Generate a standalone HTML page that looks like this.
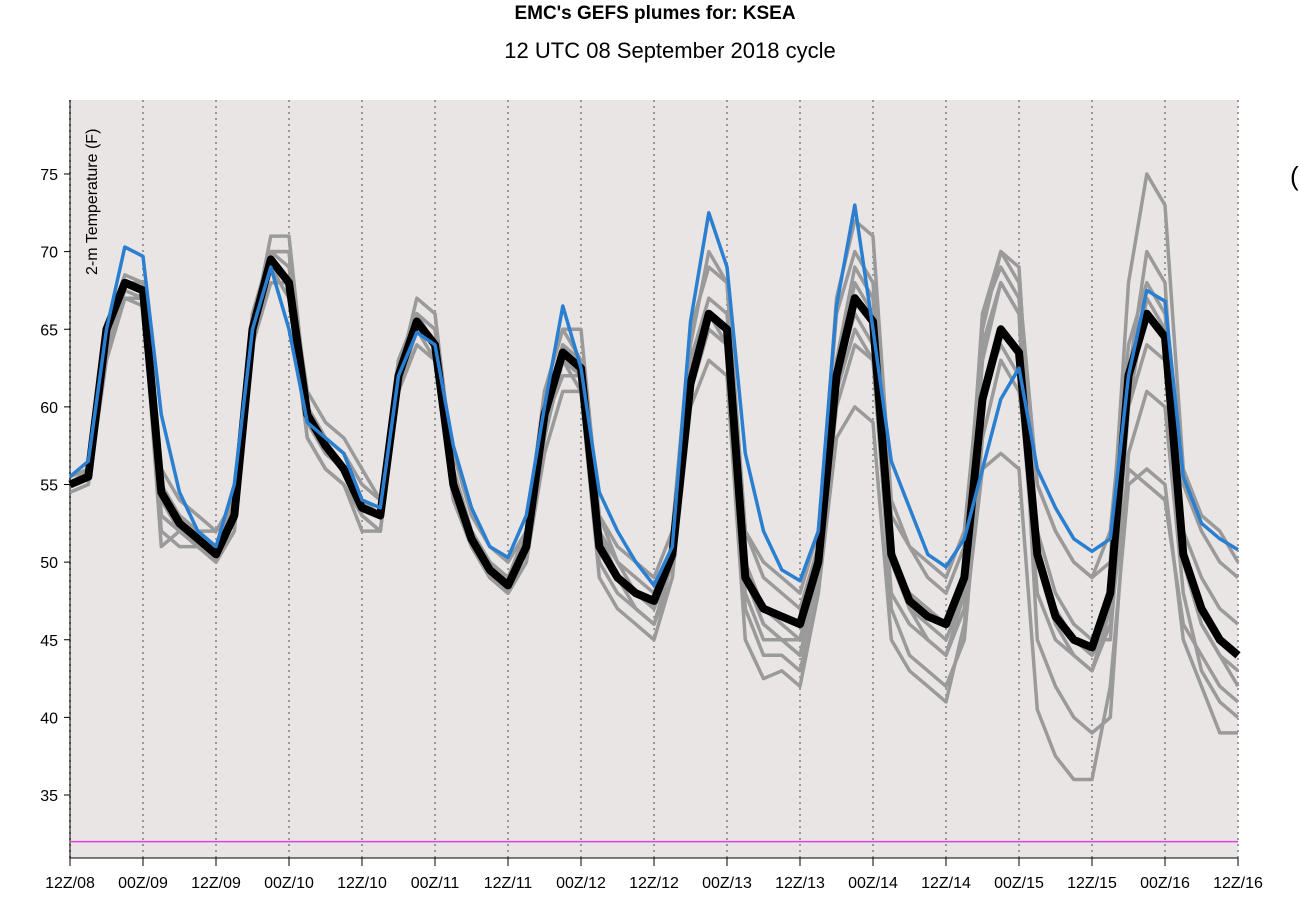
<!DOCTYPE html>
<html><head><meta charset="utf-8"><style>
body{margin:0;background:#fff;font-family:"Liberation Sans",Arial,sans-serif}
svg text{font-family:"Liberation Sans",Arial,sans-serif}
</style></head><body>
<svg width="1300" height="902" id="c">
<text x="655" y="19" text-anchor="middle" font-size="19" font-weight="bold">EMC's GEFS plumes for: KSEA</text>
<text x="670" y="58" text-anchor="middle" font-size="22">12 UTC 08 September 2018 cycle</text>
<rect x="70" y="100" width="1168" height="758" fill="#e9e5e4"/>
<text x="1290" y="185" font-size="26">(</text>
<g id="g"></g>
</svg>
<script>
const xLabels=["12Z/08","00Z/09","12Z/09","00Z/10","12Z/10","00Z/11","12Z/11","00Z/12","12Z/12","00Z/13","12Z/13","00Z/14","12Z/14","00Z/15","12Z/15","00Z/16","12Z/16"];
const yTicks=[35,40,45,50,55,60,65,70,75];
const freezeLine=32;
const meanSeries=[55,55.5,65,68,67.5,54.5,52.5,51.5,50.5,53,65,69.5,68,59.5,57.5,56,53.5,53,62,65.5,64,55,51.5,49.5,48.5,51,59.5,63.5,62.5,51,49,48,47.5,50.5,61.5,66,65,49,47,46.5,46,50,62,67,65.5,50.5,47.5,46.5,46,49,60.5,65,63.5,50.5,46.5,45,44.5,48,62,66,64.5,50.5,47,45,44];
const controlSeries=[55.5,56.5,65,70.3,69.7,59.5,54.5,52,51,55,65,69,65,59,58,57,54,53.5,62,64.8,64,57.5,53.5,51,50.3,53,60,66.5,62.5,54.5,52,50,48.5,51,65.5,72.5,69,57,52,49.5,48.8,52,66.5,73,65,56.5,53.5,50.5,49.7,51.5,56,60.5,62.5,56,53.5,51.5,50.7,51.5,62,67.5,66.8,55.5,52.5,51.5,50.8];
const memberA=[55,56,64,68,68,53,52,52,52,53,65,71,71,60,58,57,54,53,62,67,66,56,52,50,49,51,61,65,65,53,50,49,48,51,64,70,68,52,49,48,47,51,67,72,71,54,51,49,48,51,65,70,68,55,52,50,49,50,68,75,73,56,53,52,50];
const memberB=[54.5,55,63,67,67,51,52,51,50,53,64,68,68,58,56,55,52,52,61,64,63,54,51,49,48,50,57,61,61,49,47,46,45,49,60,63,62,45,42.5,43,42,48,58,60,59,45,43,42,41,46,56,57,56,40.5,37.5,36,36,42,55,56,55,45,42,39,39];
const memberC=[55,56,65,68.5,68,54,53,52,51,54,66,70,70,59,57,56,54,53,63,66,65,56,52,50,49,52,60,64,63,52,50,48,47,51,63,67,66,50,47,46,45,50,62,68,66,50,47,46,45,48,66,69,67,50,46,44,43,47,62,70,68,50,46,44,43];
const memberD=[55,55.5,64,67.5,67,55,53,52,51,53,65,69,68,60,58,57,55,54,62,65,64,55,51,49,48,50,59,62,62,50,48,47,46,50,62,65,64,48,45,45,44,49,60,64,63,48,46,45,44,47,61,64,62,48,45,44,43,46,60,64,63,52,49,47,46];
const memberE=[55.5,56,65,68,67.5,56,54,53,52,54,66,70,69,61,59,58,56,54,63,66,64,57,53,51,50,52,61,65,63,53,51,50,49,52,65,69,68,52,50,49,48,52,66,70,68,53,51,50,49,52,64,68,66,55,52,50,49,52,64,68,66,55,52,50,49];
const memberF=[55,55.5,64,68,68,52,51,51,50,52,64,69,67,58,56,55,53,52,61,65,64,54,51,49,48,50,58,63,61,51,49,47,46,49,61,66,64,47,44,44,43,48,62,66,64,47,44,43,42,45,58,63,61,52,48,46,45,45,60,67,65,50,46,44,42];
const memberG=[54.5,55,63.5,67,66.5,54,52,51,50,52,65,70,70,59,57,56,53,52,62,66,65,55,52,50,48,51,59,63,62,52,49,48,47,50,61,65,64,49,46,45,44,49,63,69,67,51,47,45,44,48,63,68,66,45,42,40,39,40,57,61,60,48,43,41,40];
const memberH=[55,56,64.5,68,67.5,53,52,51,50,53,65,69,68,59,57,56,54,53,62,65,63,55,52,50,49,51,60,64,62,51,49,48,47,51,62,66,65,49,46,45,45,50,61,65,63,50,48,47,46,49,66,70,69,50,47,45,44,46,56,55,54,46,44,42,41];
const members=[memberA,memberB,memberC,memberD,memberE,memberF,memberG,memberH];

const X0=70,X1=1238,NP=meanSeries.length;
const x=i=>X0+(X1-X0)*i/(NP-1);
const y=v=>174+(75-v)*(795-174)/40;
const xt=i=>X0+(X1-X0)*i/(xLabels.length-1);
const NS="http://www.w3.org/2000/svg";
const g=document.getElementById('g');
function mk(t,a){const e=document.createElementNS(NS,t);for(const k in a)e.setAttribute(k,a[k]);g.appendChild(e);return e;}
xLabels.forEach((l,i)=>{
 const ln=mk('line',{x1:xt(i),x2:xt(i),y1:100,y2:858,stroke:'#999','stroke-width':2,'stroke-dasharray':'2,4'});
 
 
 const tk=mk('line',{x1:xt(i),x2:xt(i),y1:858,y2:866,stroke:'#000','stroke-width':1});
 
 
 const t=mk('text',{x:xt(i),y:888,'text-anchor':'middle','font-size':16});
 t.textContent=l;
 
 
});
const ax=mk('line',{x1:X0,x2:X1,y1:858,y2:858,stroke:'#000','stroke-width':1});


const ay=mk('line',{x1:X0,x2:X0,y1:100,y2:858,stroke:'#000','stroke-width':1});


yTicks.forEach(v=>{
 const tk=mk('line',{x1:X0-6,x2:X0,y1:y(v),y2:y(v),stroke:'#000'});
 
 
 const t=mk('text',{x:X0-12,y:y(v)+6,'text-anchor':'end','font-size':16});
 t.textContent=v;
 
 
});
const yt=mk('text',{x:0,y:0,'font-size':16,transform:'translate(97,275) rotate(-90)'});
yt.textContent='2-m Temperature (F)';


const fl=mk('line',{x1:X0,x2:X1,y1:y(freezeLine),y2:y(freezeLine),stroke:'#e040e0','stroke-width':1.5});


const pts=s=>s.map((v,i)=>x(i).toFixed(1)+','+y(v).toFixed(1)).join(' ');
members.forEach(m=>{
 const p=mk('polyline',{points:pts(m),fill:'none',stroke:'#9a9a9a','stroke-width':3.5,'stroke-linejoin':'round'});
 
 
});
const mp=mk('polyline',{points:pts(meanSeries),fill:'none',stroke:'#000','stroke-width':8,'stroke-linejoin':'round'});


const cp=mk('polyline',{points:pts(controlSeries),fill:'none',stroke:'#2a7fd0','stroke-width':3.5,'stroke-linejoin':'round'});


</script>
</body></html>
